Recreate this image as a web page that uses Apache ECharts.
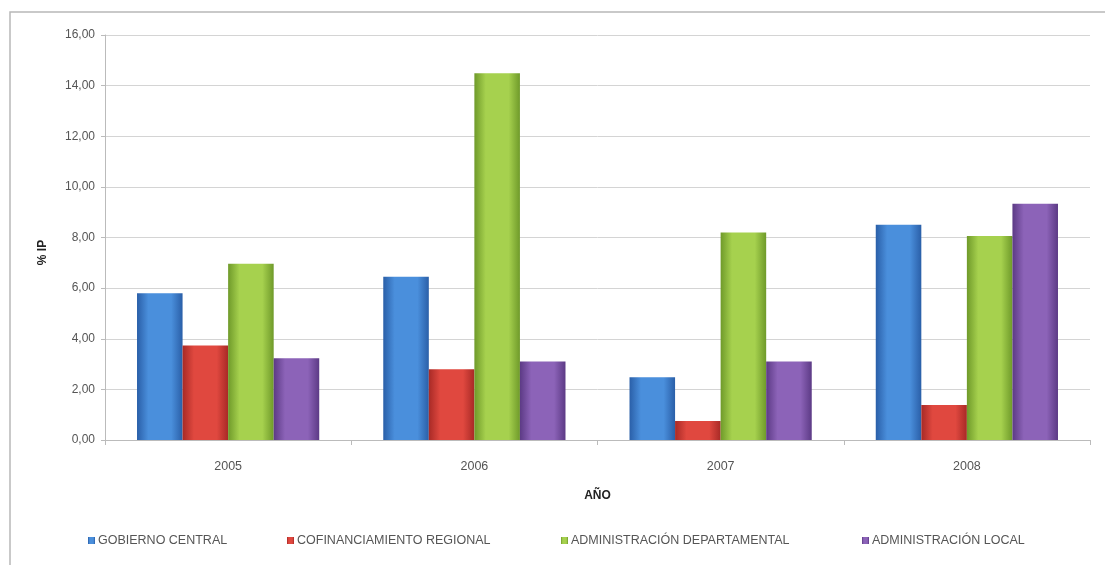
<!DOCTYPE html>
<html>
<head>
<meta charset="utf-8">
<script src="https://cdn.jsdelivr.net/npm/echarts@6/dist/echarts.min.js"></script>
<style>
  html, body { margin: 0; padding: 0; background: #fff; }
  #chart { width: 1105px; height: 565px; }
</style>
</head>
<body>
<div id="chart"></div>
<script>
// categorías (años)
const years = ['2005', '2006', '2007', '2008']

// series
const seriesNames = ['GOBIERNO CENTRAL', 'COFINANCIAMIENTO REGIONAL', 'ADMINISTRACIÓN DEPARTAMENTAL', 'ADMINISTRACIÓN LOCAL']
const gobiernoCentral = [5.8, 6.45, 2.48, 8.5]
const cofinanciamiento = [3.73, 2.8, 0.75, 1.38]
const admDepartamental = [6.96, 14.49, 8.2, 8.06]
const admLocal = [3.23, 3.1, 3.1, 9.33]

// ticks del eje y
const yTicks = [0, 2, 4, 6, 8, 10, 12, 14, 16]

const font = "'Liberation Sans Narrow', 'Liberation Sans', sans-serif"

// colores base, borde oscuro y centro claro para el efecto 3D
const palette = [
  ['#2a5fa8', '#4a8fdc'],
  ['#a82a26', '#e0483f'],
  ['#6f9a2a', '#a6d14e'],
  ['#5c3a85', '#8c63b8']
]

// posición x de cada entrada de la leyenda
const legendLeft = [83, 282, 556, 857]

function barColor(p) {
  return {
    type: 'linear', x: 0, y: 0, x2: 1, y2: 0,
    colorStops: [
      { offset: 0, color: p[0] },
      { offset: 0.25, color: p[1] },
      { offset: 0.75, color: p[1] },
      { offset: 1, color: p[0] }
    ]
  }
}

const dataSets = [gobiernoCentral, cofinanciamiento, admDepartamental, admLocal]

let myChart = echarts.init(document.getElementById('chart'))

myChart.setOption({
  animation: false,
  textStyle: { fontFamily: font },
  graphic: [
    {
      type: 'rect',
      shape: { x: 10, y: 12, width: 1100, height: 560 },
      style: { fill: 'none', stroke: '#b8b8b8', lineWidth: 1.5 }
    }
  ],
  grid: { left: 105, right: 15, top: 35, bottom: 125 },
  legend: seriesNames.map((name, i) => ({
    bottom: 13,
    left: legendLeft[i],
    itemWidth: 7,
    itemHeight: 7,
    itemGap: 4,
    icon: 'rect',
    textStyle: { color: '#555', fontSize: 12.5, fontFamily: font, padding: [0, 0, 0, -2] },
    data: [name]
  })),
  xAxis: {
    type: 'category',
    data: years,
    name: 'AÑO',
    nameLocation: 'middle',
    nameGap: 50,
    nameTextStyle: { color: '#222', fontWeight: 'bold', fontSize: 12 },
    axisLine: { lineStyle: { color: '#bbb' } },
    axisTick: { show: true, length: 5, lineStyle: { color: '#bbb' } },
    axisLabel: { color: '#555', fontSize: 12.5, margin: 20 }
  },
  yAxis: {
    type: 'value',
    min: yTicks[0],
    max: yTicks[yTicks.length - 1],
    interval: 2,
    name: '% IP',
    nameLocation: 'middle',
    nameGap: 56,
    nameRotate: 90,
    nameTextStyle: { color: '#222', fontWeight: 'bold', fontSize: 12, padding: [0, 0, 0, -30] },
    axisLine: { show: true, lineStyle: { color: '#bbb' } },
    axisTick: { show: true, length: 4, lineStyle: { color: '#bbb' } },
    splitLine: { lineStyle: { color: '#d4d4d4' } },
    axisLabel: {
      color: '#555',
      fontSize: 12,
      margin: 10,
      formatter: v => v.toFixed(2).replace('.', ',')
    }
  },
  series: seriesNames.map((name, i) => ({
    name: name,
    type: 'bar',
    data: dataSets[i],
    barGap: '0%',
    barCategoryGap: '26%',
    itemStyle: { color: barColor(palette[i]) }
  }))
})
</script>
</body>
</html>
